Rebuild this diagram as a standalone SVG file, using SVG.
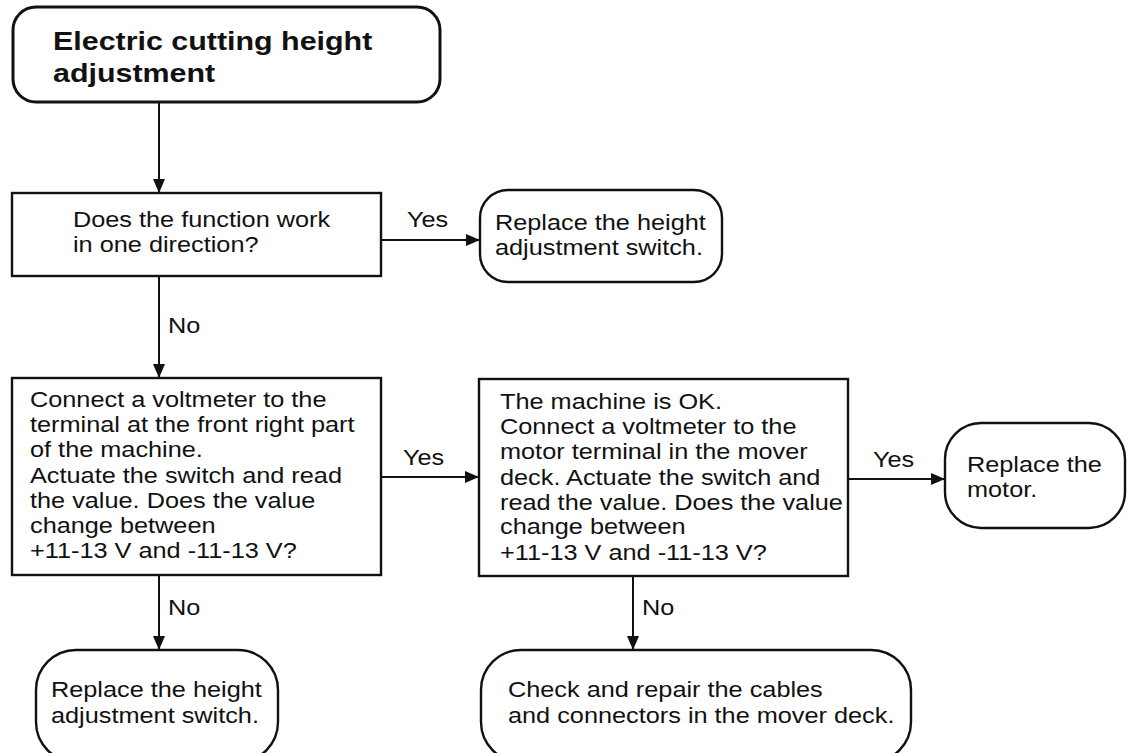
<svg xmlns="http://www.w3.org/2000/svg" width="1128" height="753" viewBox="0 0 1128 753">
<defs>
<style>
.box{fill:#fff;stroke:#111;stroke-width:2.4}
.title{fill:#fff;stroke:#111;stroke-width:3}
.t{font-family:"Liberation Sans",Arial,sans-serif;font-size:22px;fill:#111}
.tb{font-family:"Liberation Sans",Arial,sans-serif;font-size:26px;font-weight:bold;fill:#111}
.ln{fill:none;stroke:#111;stroke-width:2}
</style>
<marker id="ah" viewBox="0 0 14 12" refX="14" refY="6" markerWidth="14" markerHeight="12" markerUnits="userSpaceOnUse" orient="auto">
<path d="M0,0 L14,6 L0,12 Z" fill="#111"/>
</marker>
</defs>
<rect width="1128" height="753" fill="#fff"/>

<g id="connectors">
<line class="ln" x1="159" y1="102" x2="159" y2="193" marker-end="url(#ah)"/>
<line class="ln" x1="381" y1="240" x2="480" y2="240" marker-end="url(#ah)"/>
<text class="t" transform="translate(407 0) scale(1.15 1)" x="0" y="227">Yes</text>
<line class="ln" x1="159" y1="276" x2="159" y2="378" marker-end="url(#ah)"/>
<text class="t" transform="translate(168 0) scale(1.15 1)" x="0" y="333">No</text>
<line class="ln" x1="381" y1="477" x2="479" y2="477" marker-end="url(#ah)"/>
<text class="t" transform="translate(403 0) scale(1.15 1)" x="0" y="465">Yes</text>
<line class="ln" x1="848" y1="479" x2="945" y2="479" marker-end="url(#ah)"/>
<text class="t" transform="translate(873 0) scale(1.15 1)" x="0" y="467">Yes</text>
<line class="ln" x1="159" y1="575" x2="159" y2="650" marker-end="url(#ah)"/>
<text class="t" transform="translate(168 0) scale(1.15 1)" x="0" y="615">No</text>
<line class="ln" x1="633" y1="576" x2="633" y2="650" marker-end="url(#ah)"/>
<text class="t" transform="translate(642 0) scale(1.15 1)" x="0" y="615">No</text>
</g>

<g id="start">
<rect class="title" x="13" y="7" width="427" height="95" rx="23" ry="23"/>
<text class="tb" transform="translate(53 0) scale(1.17 1)"><tspan x="0" y="50">Electric cutting height</tspan><tspan x="0" y="82">adjustment</tspan></text>
</g>

<g id="q1">
<rect class="box" x="12" y="193" width="369" height="83"/>
<text class="t" transform="translate(73 0) scale(1.15 1)"><tspan x="0" y="227">Does the function work</tspan><tspan x="0" y="252">in one direction?</tspan></text>
</g>

<g id="r1">
<rect class="box" x="480" y="190" width="242" height="92" rx="28" ry="28"/>
<text class="t" transform="translate(495 0) scale(1.15 1)"><tspan x="0" y="230">Replace the height</tspan><tspan x="0" y="255">adjustment switch.</tspan></text>
</g>

<g id="q2">
<rect class="box" x="12" y="378" width="369" height="197"/>
<text class="t" transform="translate(30 0) scale(1.15 1)"><tspan x="0" y="407">Connect a voltmeter to the</tspan><tspan x="0" y="432">terminal at the front right part</tspan><tspan x="0" y="457">of the machine.</tspan><tspan x="0" y="483">Actuate the switch and read</tspan><tspan x="0" y="508">the value. Does the value</tspan><tspan x="0" y="533">change between</tspan><tspan x="0" y="558">+11-13 V and -11-13 V?</tspan></text>
</g>

<g id="q3">
<rect class="box" x="479" y="379" width="369" height="197"/>
<text class="t" transform="translate(500 0) scale(1.15 1)"><tspan x="0" y="409">The machine is OK.</tspan><tspan x="0" y="434">Connect a voltmeter to the</tspan><tspan x="0" y="459">motor terminal in the mover</tspan><tspan x="0" y="485">deck. Actuate the switch and</tspan><tspan x="0" y="510">read the value. Does the value</tspan><tspan x="0" y="534">change between</tspan><tspan x="0" y="560">+11-13 V and -11-13 V?</tspan></text>
</g>

<g id="r2">
<rect class="box" x="945" y="423" width="180" height="105" rx="36" ry="36"/>
<text class="t" transform="translate(967 0) scale(1.15 1)"><tspan x="0" y="472">Replace the</tspan><tspan x="0" y="497">motor.</tspan></text>
</g>

<g id="r3">
<rect class="box" x="36" y="650" width="242" height="112" rx="40" ry="40"/>
<text class="t" transform="translate(51 0) scale(1.15 1)"><tspan x="0" y="697">Replace the height</tspan><tspan x="0" y="723">adjustment switch.</tspan></text>
</g>

<g id="r4">
<rect class="box" x="481" y="650" width="430" height="112" rx="40" ry="40"/>
<text class="t" transform="translate(508 0) scale(1.15 1)"><tspan x="0" y="697">Check and repair the cables</tspan><tspan x="0" y="723">and connectors in the mover deck.</tspan></text>
</g>
</svg>
